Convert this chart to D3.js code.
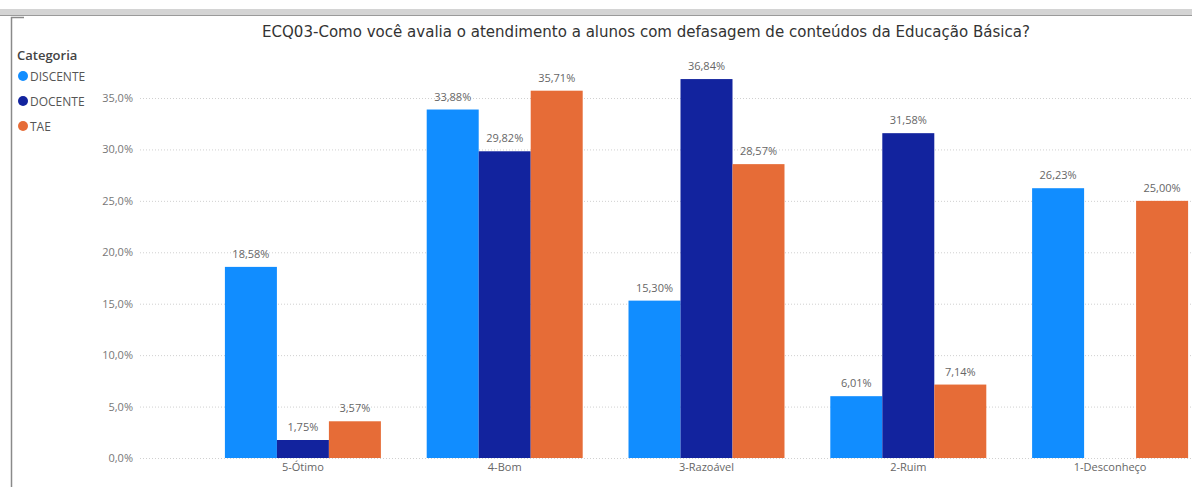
<!DOCTYPE html>
<html><head><meta charset="utf-8">
<script src="https://cdn.jsdelivr.net/npm/d3@7"></script>
<style>body{margin:0;background:#fff;}svg{display:block;}</style>
</head><body>
<svg id="c" width="1192" height="487"></svg>
<script>
const categories = ["5-Ótimo","4-Bom","3-Razoável","2-Ruim","1-Desconheço"];
const seriesNames = ["DISCENTE","DOCENTE","TAE"];
const discente = [18.58, 33.88, 15.30, 6.01, 26.23];
const docente = [1.75, 29.82, 36.84, 31.58, null];
const tae = [3.57, 35.71, 28.57, 7.14, 25.00];
const yTicks = [0,5,10,15,20,25,30,35];
const colors = ["#118DFF","#12239E","#E66C37"];
const title = "ECQ03-Como você avalia o atendimento a alunos com defasagem de conteúdos da Educação Básica?";

const series = [discente, docente, tae];
const svg = d3.select("#c");
const fmt = v => v.toFixed(2).replace(".", ",") + "%";
const fmtAxis = v => v.toFixed(1).replace(".", ",") + "%";

// frame decorations
svg.append("rect").attr("x",0).attr("y",9).attr("width",1192).attr("height",6).attr("fill","#d4d4d4");
svg.append("line").attr("x1",0).attr("x2",1192).attr("y1",15.5).attr("y2",15.5).attr("stroke","#9a9a9a").attr("stroke-width",1.2);
svg.append("path").attr("d","M11.5,487 L11.5,17.5 L24,17.5").attr("fill","none").attr("stroke","#8a8a8a").attr("stroke-width",1.5);

const y = d3.scaleLinear().domain([0,35]).range([458,98]);
const x = d3.scaleBand().domain(categories).range([202,1211]).paddingInner(0.227).paddingOuter(0.1135);
const xs = d3.scaleBand().domain(seriesNames).range([0,x.bandwidth()]);

// gridlines
svg.append("g").selectAll("line").data(yTicks).join("line")
  .attr("x1",140).attr("x2",1192)
  .attr("y1",d=>y(d)+0.5).attr("y2",d=>y(d)+0.5)
  .attr("stroke","#d0d0d0").attr("stroke-dasharray","1,2").attr("stroke-width",1);

// y axis
const yAxis = d3.axisLeft(y).tickValues(yTicks).tickFormat(fmtAxis).tickSize(0).tickPadding(0);
const ya = svg.append("g").attr("transform","translate(133,0)").call(yAxis);
ya.select(".domain").remove();
ya.selectAll("text").attr("fill","#777").style("font-family","'Open Sans', sans-serif").style("font-size","11px");

// x axis
const xAxis = d3.axisBottom(x).tickSize(0).tickPadding(5);
const xa = svg.append("g").attr("transform","translate(0,458)").call(xAxis);
xa.select(".domain").remove();
xa.selectAll("text").attr("fill","#666").style("font-family","'Open Sans', sans-serif").style("font-size","11px");

// bars
const data = [];
categories.forEach((c,i)=>seriesNames.forEach((s,j)=>{ if(series[j][i]!=null) data.push({c,s,v:series[j][i],j}); }));
const bars = svg.append("g");
bars.selectAll("rect").data(data).join("rect")
  .attr("x",d=>x(d.c)+xs(d.s)).attr("width",xs.bandwidth())
  .attr("y",d=>y(d.v)).attr("height",d=>y(0)-y(d.v))
  .attr("fill",d=>colors[d.j]);
bars.selectAll("text").data(data).join("text")
  .attr("x",d=>x(d.c)+xs(d.s)+xs.bandwidth()/2)
  .attr("y",d=>y(d.v)-9)
  .attr("text-anchor","middle")
  .attr("fill","#666").style("font-family","'Open Sans', sans-serif").style("font-size","11px")
  .text(d=>fmt(d.v));

// title
svg.append("text").attr("x",646).attr("y",37).attr("text-anchor","middle")
  .attr("fill","#333").style("font-family","'DejaVu Sans Condensed', 'DejaVu Sans', sans-serif").style("font-size","15px")
  .attr("textLength",768).attr("lengthAdjust","spacingAndGlyphs")
  .text(title);

// legend
svg.append("text").attr("x",17).attr("y",60).attr("fill","#444")
  .style("font-family","'Open Sans', sans-serif").style("font-size","13px").style("font-weight","600").text("Categoria");
const lg = svg.append("g").selectAll("g").data(seriesNames).join("g")
  .attr("transform",(d,i)=>`translate(0,${76+i*25})`);
lg.append("circle").attr("cx",23).attr("cy",0).attr("r",5).attr("fill",(d,i)=>colors[i]);
lg.append("text").attr("x",30).attr("y",4.5).attr("fill","#555")
  .style("font-family","'Open Sans', sans-serif").style("font-size","12px").text(d=>d);
</script>
</body></html>
